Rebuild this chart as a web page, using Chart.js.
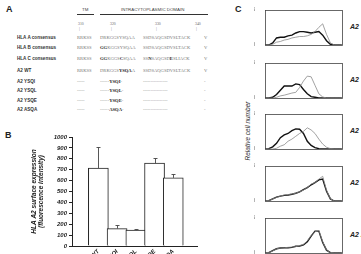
<!DOCTYPE html>
<html>
<head>
<meta charset="utf-8">
<script src="https://cdn.jsdelivr.net/npm/chart.js@4.4.1/dist/chart.umd.min.js"></script>
<style>
html, body { margin: 0; padding: 0; background: #fff; }
body { width: 361px; height: 254px; overflow: hidden; position: relative; font-family: "Liberation Sans", Arial, sans-serif; color: #222; }
.abs { position: absolute; white-space: nowrap; line-height: 1; }
.panel { font-weight: bold; font-size: 9px; }
.rowlab { font-weight: bold; font-size: 4.6px; color: #333; }
.seq { font-family: "Liberation Serif", "Times New Roman", serif; font-size: 4.6px; color: #777; }
.seq b { color: #222; }
.hdr { font-size: 4.4px; color: #444; }
.num { font-family: "Liberation Serif", serif; font-size: 3.8px; color: #666; }
.rule { position: absolute; height: 1px; background: #333; }
.side { font-weight: bold; font-style: italic; font-size: 7px; }
.vlab { font-style: italic; font-size: 6.5px; color: #333; width: 90px; height: 8px; text-align: center; transform: rotate(-90deg); }
canvas { position: absolute; }
</style>
</head>
<body>
<div class="abs panel" style="left:6px;top:5px;">A</div>
<div class="abs panel" style="left:5px;top:131px;">B</div>
<div class="abs panel" style="left:235px;top:5px;">C</div>

<script>
// Panel A : alignement des sequences
const rowLabels = ['HLA A consensus', 'HLA B consensus', 'HLA C consensus', 'A2 WT', 'A2 YSQI', 'A2 YSQL', 'A2 YSQE', 'A2 ASQA'];
const tmSeq = ['RRKSS', 'RRKSS', 'RRKSS', 'RRKSS', '-----', '-----', '-----', '-----'];
const cytoSeq1 = ['DRKGGSYSQAA', '[GG]KGGSYSQAA', '[GG]KGGS[C]SQAA', 'DRKGGS[YSQA]A', '------[YSQI]-', '------[YSQL]-', '------[YSQE]-', '------[ASQA]-'];
const cytoSeq2 = ['SSDSAQGSDVSLTACK', 'SSDSAQGSDVSLTACK', 'SS[N]SAQGSD[E]SLIACK', 'SSDSAQGSDVSLTACK', '----------------', '----------------', '----------------', '----------------'];
const tailSeq = ['V', 'V', 'V', 'V', '-', '-', '-', '-'];
const residueNums = ['310', '320', '330', '340'];

// Panel B : expression de surface
const categories = ['A2 WT', 'A2 YSQI', 'A2 YSQL', 'A2 YSQE', 'A2 ASQA'];
const expression = [715, 160, 145, 760, 625];
const expressionErr = [190, 35, 15, 50, 35];

// Panel C : histogrammes (x en decades log)
const logBins = [0, 0.2, 0.4, 0.6, 0.8, 1.0, 1.2, 1.4, 1.6, 1.8, 2.0, 2.2, 2.4, 2.6, 2.8, 3.0, 3.2, 3.4, 3.6, 3.8, 4.0];
const histTickLabels = ['10\u2070', '10\u00b9', '10\u00b2', '10\u00b3', '10\u2074'];
const histBlack = [
    [0, 0, 0.3, 1.0, 1.1, 1.1, 1.3, 1.4, 1.7, 1.9, 1.9, 1.8, 1.7, 1.8, 1.9, 1.4, 0.6, 0.1, 0, 0, 0],
    [0, 0, 0.1, 0.5, 1.1, 1.7, 1.7, 1.7, 2.0, 1.9, 1.2, 0.6, 0.2, 0.1, 0, 0, 0, 0, 0, 0, 0],
    [0, 0.05, 0.3, 0.8, 1.6, 2.0, 2.2, 2.6, 2.85, 2.8, 2.2, 1.1, 0.5, 0.2, 0.05, 0, 0, 0, 0, 0, 0],
    [0, 0.05, 0.3, 0.55, 0.7, 0.8, 0.85, 0.95, 1.1, 1.3, 1.6, 1.9, 2.3, 2.6, 3.0, 3.1, 1.4, 0.3, 0, 0, 0],
    [0, 0.05, 0.35, 0.6, 0.7, 0.75, 0.75, 0.8, 0.95, 1.0, 1.15, 1.6, 2.4, 3.1, 3.1, 1.5, 0.4, 0.05, 0, 0, 0]
];
const histGray = [
    [0, 0, 0.1, 0.4, 0.5, 0.7, 0.8, 1.0, 1.1, 1.2, 1.2, 1.3, 1.5, 1.9, 2.5, 3.0, 1.5, 0.3, 0, 0, 0],
    [0, 0, 0, 0.1, 0.3, 0.4, 0.55, 0.7, 0.8, 1.5, 2.4, 3.1, 3.0, 1.8, 0.6, 0.15, 0, 0, 0, 0, 0],
    [0, 0, 0, 0.1, 0.4, 0.6, 1.1, 1.4, 1.8, 2.2, 2.5, 3.0, 2.7, 2.2, 1.4, 0.7, 0.25, 0.05, 0, 0, 0],
    [0, 0.05, 0.3, 0.5, 0.7, 0.85, 0.9, 1.0, 1.1, 1.3, 1.55, 1.9, 2.4, 2.6, 3.1, 3.5, 1.5, 0.3, 0, 0, 0],
    [0, 0.05, 0.3, 0.6, 0.7, 0.75, 0.8, 0.85, 0.9, 1.05, 1.2, 1.7, 2.5, 3.0, 3.2, 1.6, 0.4, 0.05, 0, 0, 0]
];

// petite fonction pour mettre en gras le texte entre crochets
function markup(s) {
    return s.replace(/\[([^\]]+)\]/g, '<b>$1</b>');
}

function addText(cls, html, left, top) {
    const d = document.createElement('div');
    d.className = 'abs ' + cls;
    d.innerHTML = html;
    d.style.left = left + 'px';
    d.style.top = top + 'px';
    document.body.appendChild(d);
    return d;
}

// en-tete du panel A
addText('hdr', 'TM', 82, 8);
addText('hdr', 'INTRACYTOPLASMIC DOMAIN', 121, 8);
[[77, 17], [100, 108]].forEach(function(r) {
    const l = document.createElement('div');
    l.className = 'rule';
    l.style.left = r[0] + 'px';
    l.style.top = '14px';
    l.style.width = r[1] + 'px';
    document.body.appendChild(l);
});
const numX = [78, 110, 155, 195];
residueNums.forEach(function(n, i) {
    addText('num', n, numX[i], 23);
    addText('num', '|', numX[i] + 1, 28);
});
const rowY = [36, 46, 56.5, 69, 79.5, 89, 98.5, 108];
rowLabels.forEach(function(lab, i) {
    addText('rowlab', lab, 17, rowY[i]);
    addText('seq', markup(tmSeq[i]), 77, rowY[i]);
    addText('seq', markup(cytoSeq1[i]), 100, rowY[i]);
    addText('seq', markup(cytoSeq2[i]), 143, rowY[i]);
    addText('seq', markup(tailSeq[i]), 204, rowY[i]);
});

// Panel B
const tickFont = { family: '"Liberation Sans", Arial, sans-serif', size: 6, weight: 'bold', style: 'italic' };

const errorBars = {
    id: 'errorBars',
    afterDatasetsDraw(chart) {
        const ctx = chart.ctx;
        const x = chart.scales.x, y = chart.scales.y;
        ctx.save();
        ctx.strokeStyle = '#444';
        ctx.lineWidth = 0.9;
        expression.forEach(function(v, i) {
            const px = Math.round(x.getPixelForValue(i)) + 0.5;
            const base = y.getPixelForValue(v);
            const top = Math.round(y.getPixelForValue(v + expressionErr[i])) + 0.5;
            ctx.beginPath();
            ctx.moveTo(px, base);
            ctx.lineTo(px, top);
            ctx.moveTo(px - 2, top);
            ctx.lineTo(px + 2, top);
            ctx.stroke();
        });
        ctx.restore();
    }
};

const cB = document.createElement('canvas');
cB.width = 175; cB.height = 170;
cB.style.left = '30px'; cB.style.top = '128px';
document.body.appendChild(cB);

new Chart(cB.getContext('2d'), {
    type: 'bar',
    data: {
        datasets: [{
            data: categories.map(function(c, i) { return { x: i, y: expression[i] }; }),
            backgroundColor: '#ffffff',
            borderColor: '#222',
            borderWidth: 1,
            barThickness: 20
        }]
    },
    options: {
        responsive: false,
        animation: false,
        layout: { padding: { top: 9, right: 8, left: 0, bottom: 0 } },
        plugins: { legend: { display: false }, tooltip: { enabled: false } },
        scales: {
            x: {
                type: 'linear',
                min: -0.74,
                max: 4.6,
                grid: { display: false, drawTicks: false },
                border: { color: '#222', width: 1 },
                afterBuildTicks: function(s) { s.ticks = categories.map(function(c, i) { return { value: i }; }); },
                afterFit: function(s) { s.height = 52; },
                ticks: {
                    autoSkip: false,
                    minRotation: 45,
                    maxRotation: 45,
                    padding: 2,
                    color: '#222',
                    font: tickFont,
                    callback: function(v) { return categories[v]; }
                }
            },
            y: {
                min: 0,
                max: 1000,
                grid: { drawOnChartArea: false, tickLength: 3, color: '#222' },
                border: { color: '#222', width: 1 },
                afterFit: function(s) { s.width = 42; },
                ticks: { stepSize: 100, padding: 2, color: '#222', font: tickFont, callback: function(v) { return String(v); } },
                title: {
                    display: true,
                    text: ['HLA A2 surface expression', '(fluorescence intensity)'],
                    color: '#222',
                    padding: 0,
                    font: { family: '"Liberation Sans", Arial, sans-serif', size: 6.5, weight: 'bold', style: 'italic', lineHeight: 1.2 }
                }
            }
        }
    },
    plugins: [errorBars]
});

// Panel C
const frame = {
    id: 'frame',
    afterDatasetsDraw(chart) {
        const a = chart.chartArea;
        const ctx = chart.ctx;
        ctx.save();
        ctx.strokeStyle = '#444';
        ctx.lineWidth = 0.8;
        ctx.strokeRect(Math.round(a.left) + 0.5, Math.round(a.top) + 0.5, Math.round(a.right - a.left), Math.round(a.bottom - a.top));
        ctx.restore();
    }
};

const histTops = [8, 61, 112, 164, 216];
histTops.forEach(function(top, p) {
    const c = document.createElement('canvas');
    c.width = 92; c.height = 48;
    c.style.left = '254px'; c.style.top = (top - 3) + 'px';
    document.body.appendChild(c);
    new Chart(c.getContext('2d'), {
        type: 'line',
        data: {
            datasets: [{
                data: logBins.map(function(d, i) { return { x: d, y: histGray[p][i] }; }),
                borderColor: '#8a8a8a',
                borderWidth: 0.8,
                pointRadius: 0,
                fill: false
            }, {
                data: logBins.map(function(d, i) { return { x: d, y: histBlack[p][i] }; }),
                borderColor: '#111',
                borderWidth: 1.4,
                pointRadius: 0,
                fill: false
            }]
        },
        options: {
            responsive: false,
            animation: false,
            layout: { padding: { top: 3, right: 3, left: 0, bottom: 0 } },
            plugins: { legend: { display: false }, tooltip: { enabled: false } },
            scales: {
                x: {
                    type: 'linear', min: 0, max: 4,
                    grid: { display: false },
                    border: { display: false },
                    afterBuildTicks: function(s) { s.ticks = histTickLabels.map(function(t, i) { return { value: i }; }); },
                    afterFit: function(s) { s.height = 8; },
                    ticks: {
                        autoSkip: false, maxRotation: 0, padding: 1, color: '#444',
                        font: { family: '"Liberation Sans", Arial, sans-serif', size: 4 },
                        callback: function(v) { return histTickLabels[v]; }
                    }
                },
                y: {
                    min: 0, max: 5,
                    grid: { display: false },
                    border: { display: false },
                    afterBuildTicks: function(s) { s.ticks = [{ value: 0 }, { value: 5 }]; },
                    afterFit: function(s) { s.width = 11; },
                    ticks: { padding: 2, color: '#444', font: { family: '"Liberation Sans", Arial, sans-serif', size: 4.5 } }
                }
            }
        },
        plugins: [frame]
    });
    addText('side', categories[p], 350, top + 15);
});

// titre vertical du panel C, centre sur (249, 131)
addText('vlab', 'Relative cell number', 249 - 45, 131 - 4);
</script>
</body>
</html>
